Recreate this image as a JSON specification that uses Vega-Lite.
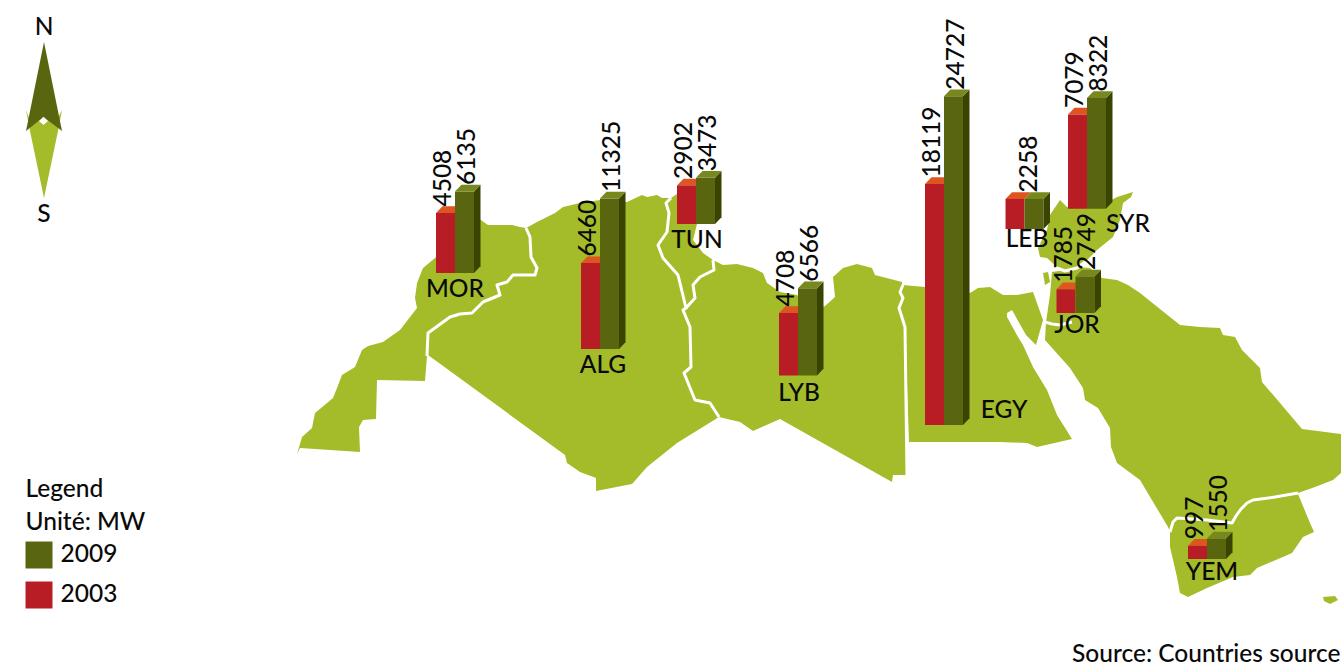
{
  "$schema": "https://vega.github.io/schema/vega-lite/v6.json",
  "width": 1341,
  "height": 664,
  "padding": 0,
  "autosize": {"type": "none"},
  "background": "white",
  "projection": {"type": "identity", "scale": 1, "translate": [0, 0]},
  "config": {
    "view": {"stroke": null},
    "font": "Lato",
    "text": {"font": "Lato", "fontSize": 24.5, "fontWeight": 500, "color": "#0a0a0a"}
  },
  "datasets": {
    "capacity": [
      {"country": "MOR", "year": "2003", "value": 4508},
      {"country": "MOR", "year": "2009", "value": 6135},
      {"country": "ALG", "year": "2003", "value": 6460},
      {"country": "ALG", "year": "2009", "value": 11325},
      {"country": "TUN", "year": "2003", "value": 2902},
      {"country": "TUN", "year": "2009", "value": 3473},
      {"country": "LYB", "year": "2003", "value": 4708},
      {"country": "LYB", "year": "2009", "value": 6566},
      {"country": "EGY", "year": "2003", "value": 18119},
      {"country": "EGY", "year": "2009", "value": 24727},
      {"country": "LEB", "year": "2003", "value": 2258},
      {"country": "LEB", "year": "2009", "value": 2258},
      {"country": "SYR", "year": "2003", "value": 7079},
      {"country": "SYR", "year": "2009", "value": 8322},
      {"country": "JOR", "year": "2003", "value": 1785},
      {"country": "JOR", "year": "2009", "value": 2749},
      {"country": "YEM", "year": "2003", "value": 997},
      {"country": "YEM", "year": "2009", "value": 1550}
    ],
    "sites": [
      {"country": "MOR", "mapX": 436, "mapY": 273, "nameX": 455, "nameY": 290},
      {"country": "ALG", "mapX": 581, "mapY": 349, "nameX": 603, "nameY": 366},
      {"country": "TUN", "mapX": 677, "mapY": 224, "nameX": 697, "nameY": 241},
      {"country": "LYB", "mapX": 779, "mapY": 375.5, "nameX": 799, "nameY": 394},
      {"country": "EGY", "mapX": 925, "mapY": 425, "nameX": 1004, "nameY": 411},
      {"country": "LEB", "mapX": 1005.5, "mapY": 229, "nameX": 1027, "nameY": 240},
      {"country": "SYR", "mapX": 1068, "mapY": 208.7, "nameX": 1128, "nameY": 225},
      {"country": "JOR", "mapX": 1056.5, "mapY": 313, "nameX": 1077, "nameY": 326},
      {"country": "YEM", "mapX": 1188, "mapY": 559, "nameX": 1212, "nameY": 573}
    ],
    "notes": [
      {"text": "N", "mapX": 44, "mapY": 28, "anchor": "center"},
      {"text": "S", "mapX": 44, "mapY": 215, "anchor": "center"},
      {"text": "Source: Countries sources", "mapX": 1072, "mapY": 655, "anchor": "left"}
    ],
    "land": [
      {"type": "Feature", "properties": {"name": "Morocco"}, "geometry": {"type": "Polygon", "coordinates": [[[526,228],[530,237],[531,257],[537,268],[535,275],[513,275],[507,282],[497,285],[500,295],[483,302],[472,313],[460,314],[450,317],[428,333],[427,356],[425,381],[377,380],[376,419],[363,420],[359,427],[360,452],[300,448],[297,454],[302,437],[312,428],[315,413],[333,398],[337,388],[342,375],[355,367],[362,350],[368,346],[383,342],[400,330],[417,308],[415,298],[417,283],[423,268],[435,258],[478,218],[488,225],[512,225],[520,227],[526,228]]]}},
      {"type": "Feature", "properties": {"name": "Algeria"}, "geometry": {"type": "Polygon", "coordinates": [[[526,228],[537,222],[547,217],[555,213],[563,207],[580,203],[600,200],[627,202],[642,195],[647,197],[657,195],[662,198],[671,198],[666,203],[669,213],[667,232],[658,245],[663,258],[678,275],[686,308],[683,310],[690,327],[691,367],[684,373],[695,400],[710,403],[719,417],[677,443],[647,467],[632,484],[596,491],[596,478],[580,472],[567,463],[565,455],[428,355],[428,333],[450,317],[460,314],[472,313],[483,302],[500,295],[497,285],[507,282],[513,275],[535,275],[537,268],[531,257],[530,237],[526,228]]]}},
      {"type": "Feature", "properties": {"name": "Tunisia"}, "geometry": {"type": "Polygon", "coordinates": [[[671,198],[680,192],[700,192],[697,224],[693,240],[703,253],[713,260],[714,270],[700,277],[693,285],[695,298],[686,308],[678,275],[663,258],[658,245],[667,232],[669,213],[666,203],[671,198]]]}},
      {"type": "Feature", "properties": {"name": "Libya"}, "geometry": {"type": "Polygon", "coordinates": [[[713,260],[723,265],[737,264],[753,268],[763,273],[767,283],[780,292],[797,295],[815,310],[825,306],[835,297],[833,277],[843,268],[857,264],[872,268],[875,275],[902,282],[902,285],[900,292],[903,298],[899,308],[905,327],[907,475],[893,475],[892,482],[780,419],[753,431],[740,422],[719,417],[710,403],[695,400],[684,373],[691,367],[690,327],[683,310],[686,308],[695,298],[693,285],[700,277],[714,270],[713,260]]]}},
      {"type": "Feature", "properties": {"name": "Egypt"}, "geometry": {"type": "Polygon", "coordinates": [[[903,285],[925,287],[970,293],[978,288],[990,287],[1003,295],[1017,295],[1033,292],[1043,320],[1036,345],[1026,335],[1012,310],[1007,313],[1007,317],[1018,337],[1023,345],[1033,367],[1047,390],[1057,415],[1072,439],[1037,447],[1027,443],[1000,442],[909,442],[905,327],[899,308],[903,298],[900,292],[903,285]]]}},
      {"type": "Feature", "properties": {"name": "Syria and Lebanon"}, "geometry": {"type": "Polygon", "coordinates": [[[1050,215],[1060,200],[1067,207],[1106,203],[1117,197],[1133,192],[1131,197],[1123,203],[1120,220],[1113,237],[1097,250],[1087,260],[1077,267],[1065,270],[1057,267],[1047,258],[1040,257],[1038,248],[1047,230],[1050,215]]]}},
      {"type": "Feature", "properties": {"name": "Gaza"}, "geometry": {"type": "Polygon", "coordinates": [[[1043,273],[1048,272],[1050,282],[1045,285],[1043,273]]]}},
      {"type": "Feature", "properties": {"name": "Arabia"}, "geometry": {"type": "Polygon", "coordinates": [[[1052,272],[1065,270],[1077,267],[1090,268],[1102,278],[1117,280],[1128,285],[1140,293],[1160,309],[1180,325],[1200,327],[1220,328],[1223,335],[1235,337],[1242,350],[1260,368],[1262,382],[1280,403],[1302,429],[1341,434],[1341,473],[1333,480],[1315,487],[1298,493],[1275,497],[1253,500],[1247,503],[1241,509],[1236,516],[1232,523],[1207,520],[1177,518],[1173,522],[1170,532],[1168,527],[1140,480],[1117,463],[1111,447],[1110,428],[1098,408],[1085,400],[1083,388],[1070,368],[1045,340],[1046,322],[1050,295],[1052,272]]]}},
      {"type": "Feature", "properties": {"name": "Yemen"}, "geometry": {"type": "Polygon", "coordinates": [[[1170,532],[1173,522],[1177,518],[1207,520],[1232,523],[1236,516],[1241,509],[1247,503],[1253,500],[1275,497],[1298,494],[1310,523],[1314,532],[1303,537],[1292,553],[1257,568],[1250,575],[1233,577],[1207,588],[1188,597],[1180,593],[1177,577],[1170,547],[1170,532]]]}},
      {"type": "Feature", "properties": {"name": "Socotra"}, "geometry": {"type": "Polygon", "coordinates": [[[1323,597],[1335,596],[1338,600],[1330,604],[1324,601],[1323,597]]]}}
    ],
    "borders": [
      {"type": "Feature", "properties": {"name": "Morocco-Algeria"}, "geometry": {"type": "LineString", "coordinates": [[526,228],[530,237],[531,257],[537,268],[535,275],[513,275],[507,282],[497,285],[500,295],[483,302],[472,313],[460,314],[450,317],[428,333],[427,356]]}},
      {"type": "Feature", "properties": {"name": "Algeria-Tunisia-Libya"}, "geometry": {"type": "LineString", "coordinates": [[671,198],[666,203],[669,213],[667,232],[658,245],[663,258],[678,275],[686,308],[683,310],[690,327],[691,367],[684,373],[695,400],[710,403],[719,417]]}},
      {"type": "Feature", "properties": {"name": "Tunisia-Libya"}, "geometry": {"type": "LineString", "coordinates": [[713,260],[714,270],[700,277],[693,285],[695,298],[686,308]]}},
      {"type": "Feature", "properties": {"name": "Libya-Egypt"}, "geometry": {"type": "LineString", "coordinates": [[903,285],[900,292],[903,298],[899,308],[905,327],[907,475]]}},
      {"type": "Feature", "properties": {"name": "Syria-Jordan"}, "geometry": {"type": "LineString", "coordinates": [[1050,268],[1057,268],[1065,271],[1077,268],[1085,262]]}},
      {"type": "Feature", "properties": {"name": "Jordan-Arabia"}, "geometry": {"type": "LineString", "coordinates": [[1045,322],[1052,324],[1060,325],[1072,322]]}},
      {"type": "Feature", "properties": {"name": "Arabia-Yemen"}, "geometry": {"type": "LineString", "coordinates": [[1298,493],[1275,497],[1253,500],[1247,503],[1241,509],[1236,516],[1232,523],[1207,520],[1177,518],[1173,522],[1170,532]]}}
    ],
    "compassLower": [
      {"type": "Feature", "properties": {}, "geometry": {"type": "Polygon", "coordinates": [[[44,198],[30,131],[26,110],[29,118],[58,118],[62,110],[58,131],[44,198]]]}}
    ],
    "compassUpper": [
      {"type": "Feature", "properties": {}, "geometry": {"type": "Polygon", "coordinates": [[[44,42],[62,131],[43.5,117],[26,131],[44,42]]]}}
    ],
    "compassHub": [
      {"type": "Feature", "properties": {}, "geometry": {"type": "Polygon", "coordinates": [[[39,121],[43.5,117],[48,121],[43.5,125],[39,121]]]}}
    ]
  },
  "layer": [
    {
      "data": {"name": "land"},
      "mark": {"type": "geoshape", "fill": "#a5bc2a", "stroke": null}
    },
    {
      "data": {"name": "borders"},
      "mark": {"type": "geoshape", "filled": false, "stroke": "white", "strokeWidth": 3, "strokeJoin": "round"}
    },
    {
      "data": {"name": "compassLower"},
      "mark": {"type": "geoshape", "fill": "#a5bc2a", "stroke": null}
    },
    {
      "data": {"name": "compassUpper"},
      "mark": {"type": "geoshape", "fill": "#5a660f", "stroke": null}
    },
    {
      "data": {"name": "compassHub"},
      "mark": {"type": "geoshape", "fill": "white", "stroke": null}
    },
    {
      "data": {"name": "capacity"},
      "transform": [
        {"lookup": "country", "from": {"data": {"name": "sites"}, "key": "country", "fields": ["mapX", "mapY"]}},
        {"calculate": "datum.mapX + (datum.year === '2009' ? 19 : 0)", "as": "barLeft"},
        {"calculate": "datum.mapY - datum.value * 0.0133", "as": "barTop"}
      ],
      "layer": [
        {
          "transform": [
            {"filter": "datum.year === '2003'"},
            {"calculate": "0", "as": "c0"}, {"calculate": "1", "as": "c1"}, {"calculate": "2", "as": "c2"}, {"calculate": "3", "as": "c3"},
            {"fold": ["c0", "c1", "c2", "c3"], "as": ["cornerName", "corner"]},
            {"calculate": "datum.barLeft + [0, 6.5, 19, 25.5][datum.corner]", "as": "faceX"},
            {"calculate": "datum.barTop - [0, 6.7, 6.7, 6.7][datum.corner]", "as": "faceBack"},
            {"calculate": "datum.barTop - [0, 0, 0, 6.7][datum.corner]", "as": "faceFront"}
          ],
          "mark": {"type": "area", "fill": "#de5520", "interpolate": "linear"},
          "encoding": {
            "x": {"field": "faceX", "type": "quantitative", "scale": {"domain": [0, 1341], "range": [0, 1341], "nice": false, "zero": false}, "axis": null},
            "y": {"field": "faceBack", "type": "quantitative", "scale": {"domain": [0, 664], "range": [0, 664], "nice": false, "zero": false}, "axis": null, "stack": null},
            "y2": {"field": "faceFront"},
            "detail": {"field": "country", "type": "nominal"}
          }
        },
        {
          "mark": {"type": "rect"},
          "encoding": {
            "x": {"field": "barLeft", "type": "quantitative"},
            "x2": {"field": "barRight"},
            "y": {"field": "barTop", "type": "quantitative"},
            "y2": {"field": "mapY"},
            "color": {
              "field": "year", "type": "nominal",
              "scale": {"domain": ["2009", "2003"], "range": ["#5a660f", "#b81c25"]},
              "legend": {
                "orient": "none", "legendX": 25.5, "legendY": 478,
                "title": ["Legend", "Unité: MW"],
                "titleFont": "Lato", "titleFontSize": 24.5, "titleFontWeight": 500, "titleLineHeight": 33, "titleColor": "#0a0a0a", "titlePadding": 6, "titleLimit": 300,
                "labelFont": "Lato", "labelFontSize": 24.5, "labelFontWeight": 500, "labelColor": "#0a0a0a", "labelOffset": 8,
                "symbolType": "square", "symbolSize": 729, "symbolStrokeWidth": 0, "rowPadding": 13, "padding": 0
              }
            }
          },
          "transform": [
            {"calculate": "datum.barLeft + 19", "as": "barRight"}
          ]
        },
        {
          "transform": [
            {"filter": "datum.year === '2009'"},
            {"calculate": "0", "as": "c0"}, {"calculate": "1", "as": "c1"},
            {"fold": ["c0", "c1"], "as": ["edgeName", "edge"]},
            {"calculate": "datum.barLeft + 19 + datum.edge * 6.5", "as": "faceX"},
            {"calculate": "datum.barTop - datum.edge * 6.7", "as": "faceBack"},
            {"calculate": "datum.mapY - datum.edge * 6.7", "as": "faceFront"}
          ],
          "mark": {"type": "area", "fill": "#3a4300", "interpolate": "linear"},
          "encoding": {
            "x": {"field": "faceX", "type": "quantitative"},
            "y": {"field": "faceBack", "type": "quantitative", "stack": null},
            "y2": {"field": "faceFront"},
            "detail": {"field": "country", "type": "nominal"}
          }
        },
        {
          "transform": [
            {"filter": "datum.year === '2009'"},
            {"calculate": "0", "as": "c0"}, {"calculate": "1", "as": "c1"}, {"calculate": "2", "as": "c2"}, {"calculate": "3", "as": "c3"},
            {"fold": ["c0", "c1", "c2", "c3"], "as": ["cornerName", "corner"]},
            {"calculate": "datum.barLeft + [0, 6.5, 19, 25.5][datum.corner]", "as": "faceX"},
            {"calculate": "datum.barTop - [0, 6.7, 6.7, 6.7][datum.corner]", "as": "faceBack"},
            {"calculate": "datum.barTop - [0, 0, 0, 6.7][datum.corner]", "as": "faceFront"}
          ],
          "mark": {"type": "area", "fill": "#76881e", "interpolate": "linear"},
          "encoding": {
            "x": {"field": "faceX", "type": "quantitative"},
            "y": {"field": "faceBack", "type": "quantitative", "stack": null},
            "y2": {"field": "faceFront"},
            "detail": {"field": "country", "type": "nominal"}
          }
        },
        {
          "transform": [
            {"filter": "!(datum.country === 'LEB' && datum.year === '2003')"},
            {"calculate": "datum.barLeft + 9.5 + (datum.country === 'LEB' ? -4 : datum.year === '2009' ? 3 : -1.5)", "as": "labelX"},
            {"calculate": "datum.barTop - 6.5", "as": "labelY"}
          ],
          "mark": {"type": "text", "angle": 270, "align": "left", "baseline": "middle"},
          "encoding": {
            "x": {"field": "labelX", "type": "quantitative"},
            "y": {"field": "labelY", "type": "quantitative"},
            "text": {"field": "value", "type": "quantitative", "format": "d"}
          }
        }
      ]
    },
    {
      "data": {"name": "sites"},
      "mark": {"type": "text", "align": "center", "baseline": "middle"},
      "encoding": {
        "x": {"field": "nameX", "type": "quantitative"},
        "y": {"field": "nameY", "type": "quantitative"},
        "text": {"field": "country"}
      }
    },
    {
      "data": {"name": "notes"},
      "transform": [{"filter": "datum.anchor === 'center'"}],
      "mark": {"type": "text", "align": "center", "baseline": "middle"},
      "encoding": {
        "x": {"field": "mapX", "type": "quantitative"},
        "y": {"field": "mapY", "type": "quantitative"},
        "text": {"field": "text"}
      }
    },
    {
      "data": {"name": "notes"},
      "transform": [{"filter": "datum.anchor === 'left'"}],
      "mark": {"type": "text", "align": "left", "baseline": "middle"},
      "encoding": {
        "x": {"field": "mapX", "type": "quantitative"},
        "y": {"field": "mapY", "type": "quantitative"},
        "text": {"field": "text"}
      }
    }
  ]
}
